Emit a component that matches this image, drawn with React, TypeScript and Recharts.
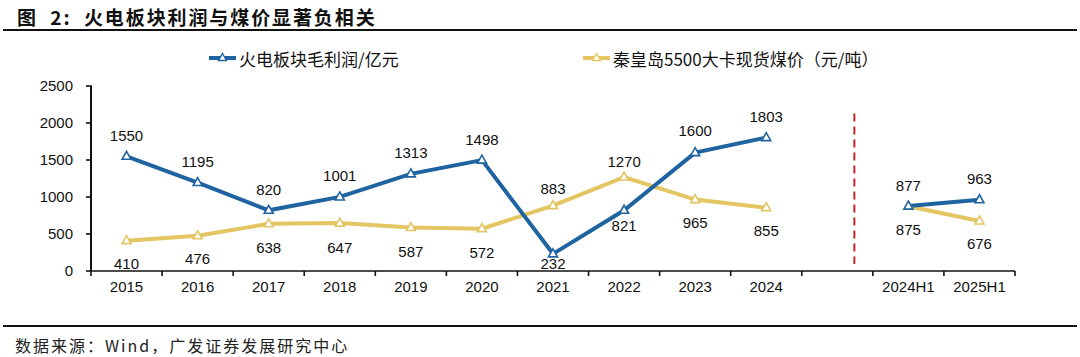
import { LineChart, Line, XAxis, YAxis, ReferenceLine } from "recharts";

const categories = ["2015", "2016", "2017", "2018", "2019", "2020", "2021", "2022", "2023", "2024", " ", "2024H1", "2025H1"];
const profit = [1550, 1195, 820, 1001, 1313, 1498, 232, 821, 1600, 1803, null, 877, 963];
const coal = [410, 476, 638, 647, 587, 572, 883, 1270, 965, 855, null, 875, 676];
const yTicks = [0, 500, 1000, 1500, 2000, 2500];

// label offsets (px) from the point, negative = above
const profitDy = [-21, -21, -21, -21, -21, -21, 10, 15, -22, -21, 0, -21, -21];
const coalDy = [23, 23, 24, 24, 24, 24, -17, -16, 23, 23, 0, 23, 23];

const BLUE = "#1f64a0";
const YELLOW = "#e3c562";
const AXIS = "#111";
const FONT = "'Liberation Sans', Arial, 'Noto Sans CJK SC', sans-serif";
const CJK = "'Noto Sans CJK SC', 'Liberation Sans', sans-serif";

const W = 1080;
const CHART_TOP = 35;
const M = { top: 51, right: 65, bottom: 38, left: 31 };
const Y_W = 60;
const PLOT_H = 275 - M.top - M.bottom - 1;
const BAND = (W - M.left - M.right - Y_W) / categories.length;

const data = categories.map((c, i) => ({ name: c, profit: profit[i], coal: coal[i] }));

const Triangle = (color: string) => (props: any) => {
  const { cx, cy, value, index } = props;
  if (value == null || cx == null) return <g key={index} />;
  return (
    <path
      key={index}
      d={`M${cx},${cy - 5} L${cx + 4.5},${cy + 3} L${cx - 4.5},${cy + 3} Z`}
      fill="#fff"
      stroke={color}
      strokeWidth={1.6}
    />
  );
};

const makeLabel = (offsets: number[]) => (props: any) => {
  const { x, y, value, index } = props;
  if (value == null) return null;
  return (
    <text x={x} y={y + offsets[index]} textAnchor="middle" dominantBaseline="central" fontSize={15} fill="#111" fontFamily={FONT}>
      {value}
    </text>
  );
};

// category label plus tick marks on the band boundaries
const XTick = (props: any) => {
  const { x, y, payload, index } = props;
  const axisY = y - 10;
  const last = index === categories.length - 1;
  return (
    <g>
      <line x1={x - BAND / 2} y1={axisY} x2={x - BAND / 2} y2={axisY + 5} stroke={AXIS} strokeWidth={1.6} />
      {last && <line x1={x + BAND / 2} y1={axisY} x2={x + BAND / 2} y2={axisY + 5} stroke={AXIS} strokeWidth={1.6} />}
      <text x={x} y={y} dy="0.71em" textAnchor="middle" fontSize={15} fill="#111" fontFamily={FONT}>
        {payload.value}
      </text>
    </g>
  );
};

const YTick = (props: any) => {
  const { x, y, payload } = props;
  const axisX = x + 18;
  return (
    <g>
      <line x1={axisX - 5} y1={y} x2={axisX + 0.8} y2={y} stroke={AXIS} strokeWidth={1.6} />
      <text x={x} y={y} dy="0.355em" textAnchor="end" fontSize={15} fill="#111" fontFamily={FONT}>
        {payload.value}
      </text>
    </g>
  );
};

const DashedDivider = (props: any) => {
  const { x1, y1, x2, y2 } = props;
  const dx = BAND * 0.24;
  return <line x1={x1 + dx} y1={y1} x2={x2 + dx} y2={y2} stroke="#c8262c" strokeWidth={2} strokeDasharray="8 5" />;
};

const LegendItem = ({ color, label, left }: { color: string; label: string; left: number }) => (
  <div style={{ position: "absolute", left, top: 47, display: "flex", alignItems: "center", height: 22 }}>
    <svg width={28} height={12}>
      <line x1={0} y1={6} x2={27} y2={6} stroke={color} strokeWidth={4} />
      <path d="M13.5,1.5 L17.5,8.5 L9.5,8.5 Z" fill="#fff" stroke={color} strokeWidth={1.4} />
    </svg>
    <span style={{ fontFamily: CJK, fontSize: 17, color: "#111", marginLeft: 2 }}>{label}</span>
  </div>
);

export default function App() {
  return (
    <div style={{ position: "absolute", left: 0, top: 0, width: W, height: 357, background: "#fff", overflow: "hidden" }}>
      <div style={{ position: "absolute", left: 17, top: 3, fontFamily: CJK, fontWeight: 700, fontSize: 19, letterSpacing: 1.9, color: "#111", whiteSpace: "pre" }}>
        {"图  2:  火电板块利润与煤价显著负相关"}
      </div>
      <div style={{ position: "absolute", left: 3, top: 29, width: 1074, height: 2, background: "#111" }} />

      <LegendItem color={BLUE} label="火电板块毛利润/亿元" left={209} />
      <LegendItem color={YELLOW} label="秦皇岛5500大卡现货煤价（元/吨）" left={583} />

      <div style={{ position: "absolute", left: 0, top: CHART_TOP }}>
        <LineChart width={W} height={275} data={data} margin={M}>
          <XAxis
            dataKey="name"
            scale="band"
            height={1}
            interval={0}
            stroke={AXIS}
            axisLine={{ stroke: AXIS, strokeWidth: 1.6 }}
            tickLine={false}
            tickSize={0}
            tickMargin={10}
            tick={<XTick />}
          />
          <YAxis
            width={Y_W}
            domain={[0, 2500]}
            ticks={yTicks}
            interval={0}
            axisLine={false}
            tickLine={false}
            tickSize={0}
            tickMargin={18}
            tick={<YTick />}
          />
          <ReferenceLine
            segment={[{ x: " ", y: 2130 }, { x: " ", y: 95 }]}
            stroke="#c8262c"
            shape={<DashedDivider />}
          />
          <Line
            dataKey="coal"
            stroke={YELLOW}
            strokeWidth={4}
            dot={Triangle(YELLOW)}
            activeDot={false}
            label={makeLabel(coalDy)}
            isAnimationActive={false}
          />
          <Line
            dataKey="profit"
            stroke={BLUE}
            strokeWidth={4}
            dot={Triangle(BLUE)}
            activeDot={false}
            label={makeLabel(profitDy)}
            isAnimationActive={false}
          />
        </LineChart>
      </div>
      {/* vertical value axis line */}
      <div style={{ position: "absolute", left: M.left + Y_W - 0.8, top: CHART_TOP + M.top, width: 1.6, height: PLOT_H + 1, background: AXIS }} />

      <div style={{ position: "absolute", left: 3, top: 325, width: 1074, height: 1.5, background: "#111" }} />
      <div style={{ position: "absolute", left: 15, top: 333, fontFamily: CJK, fontSize: 16, letterSpacing: 2, color: "#222", whiteSpace: "nowrap" }}>
        数据来源：Wind，广发证券发展研究中心
      </div>
    </div>
  );
}
